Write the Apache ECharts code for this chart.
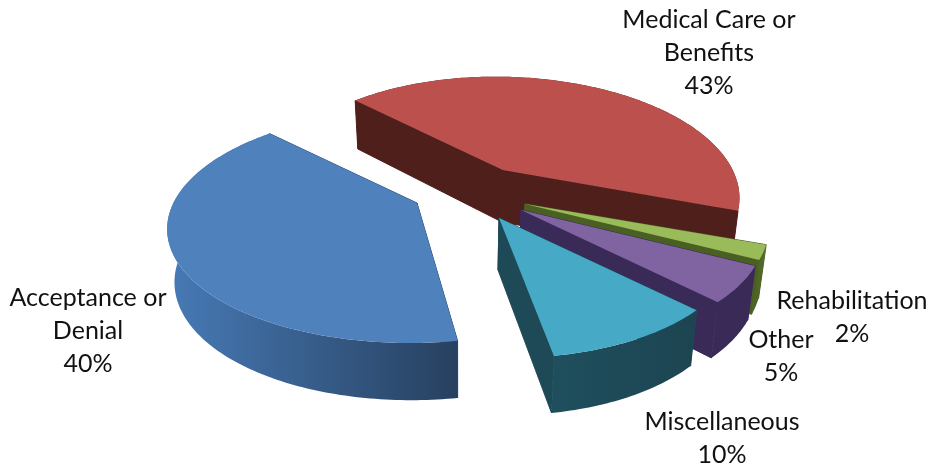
<!DOCTYPE html>
<html>
<head>
<meta charset="utf-8">
<style>
  html, body { margin: 0; padding: 0; background: #fff; }
  #main { width: 930px; height: 468px; }
</style>
<script src="https://cdn.jsdelivr.net/npm/echarts@6/dist/echarts.min.js"></script>
</head>
<body>
<div id="main"></div>
<script>
// chart data
let categories = ['Medical Care or\nBenefits', 'Rehabilitation', 'Other', 'Miscellaneous', 'Acceptance or\nDenial'];
let percents = [43, 2, 5, 10, 40];

// slice styles, same order as the data
let topColors = ['#bc504c', '#9abb59', '#8064a2', '#46a9c6', '#4f81bd'];
let wallColors = ['#4f1f1b', '#4a6023', '#3a2a58', '#1e4a58', '#2d4a70'];
let rimColors = [
  ['#4f1f1b', '#4f1f1b'],
  ['#4a6023', '#556d2b'],
  ['#3a2a58', '#3a2a58'],
  ['#1f4f5e', '#1d4451'],
  ['#477ab6', '#27405f']
];
// exploded offset of each slice from the pie centre, px
let explodeX = [19, 41, 37, 15, -67];
let explodeY = [-22, 12, 18, 26, 11];
let scaleX = [0.99, 1.03, 1.03, 1, 1.05];
let shearX = [0.08, 0, 0, 0.07, -0.05];
// label anchors
let labelX = [709, 852, 781, 722, 88];
let labelY = [53, 317, 356, 438, 331];

// fake 3d projection
let centerX = 484, centerY = 192;
let radiusX = 232, radiusY = 112, perspective = 0.2;
let depth = 52, depthGrow = 0.1, vanishX = 460, converge = 0.025;
let firstAngle = -45;

let total = percents.reduce(function (a, b) { return a + b; }, 0);
let startAngles = [];
percents.reduce(function (a, v) {
  startAngles.push(a);
  return a + v / total * 360;
}, firstAngle);

function project(i, deg) {
  let t = deg * Math.PI / 180;
  let X = Math.sin(t), Y = -Math.cos(t);
  let s = 1 / (1 - perspective * Y);
  let dy = radiusY * Y * s;
  return [
    centerX + explodeX[i] + radiusX * X * s * scaleX[i] + shearX[i] * dy,
    centerY + explodeY[i] + dy,
    1 + depthGrow * Y
  ];
}

function drop(p, k) {
  return [p[0] + (vanishX - p[0]) * converge, p[1] + depth * k];
}

function renderSlice(params, api) {
  let i = api.value(0);
  let from = startAngles[i];
  let to = from + api.value(1) / total * 360;
  let apex = [centerX + explodeX[i], centerY + explodeY[i]];
  let apexLow = drop(apex, 1);
  let arc = [], arcLow = [];
  for (let a = from; a < to; a += 1) {
    let p = project(i, a);
    arc.push([p[0], p[1]]);
    arcLow.push(drop(p, p[2]));
  }
  let last = project(i, to);
  arc.push([last[0], last[1]]);
  arcLow.push(drop(last, last[2]));

  let children = [];
  // radial walls
  [0, arc.length - 1].forEach(function (k) {
    children.push({
      type: 'polygon',
      shape: { points: [apex, arc[k], arcLow[k], apexLow] },
      style: { fill: wallColors[i], stroke: wallColors[i], lineWidth: 1 }
    });
  });
  // outer wall
  children.push({
    type: 'polygon',
    shape: { points: arc.concat(arcLow.slice().reverse()) },
    style: {
      fill: {
        type: 'linear', x: 0, y: 0, x2: 1, y2: 0,
        colorStops: [
          { offset: 0, color: rimColors[i][0] },
          { offset: 1, color: rimColors[i][1] }
        ]
      }
    }
  });
  // top face
  children.push({
    type: 'polygon',
    shape: { points: [apex].concat(arc) },
    style: { fill: topColors[i] }
  });
  // label
  children.push({
    type: 'text',
    style: {
      x: labelX[i],
      y: labelY[i],
      text: categories[i] + '\n' + percents[i] + '%',
      fill: '#111',
      font: '25px Lato',
      lineHeight: 33,
      align: 'center',
      verticalAlign: 'middle'
    },
    z2: 10
  });
  return { type: 'group', children: children };
}

let myChart = echarts.init(document.getElementById('main'), null, { renderer: 'canvas' });
let option = {
  animation: false,
  backgroundColor: '#fff',
  series: [
    {
      type: 'custom',
      coordinateSystem: 'none',
      renderItem: renderSlice,
      data: percents.map(function (v, i) { return [i, v]; })
    }
  ]
};
myChart.setOption(option);
</script>
</body>
</html>
